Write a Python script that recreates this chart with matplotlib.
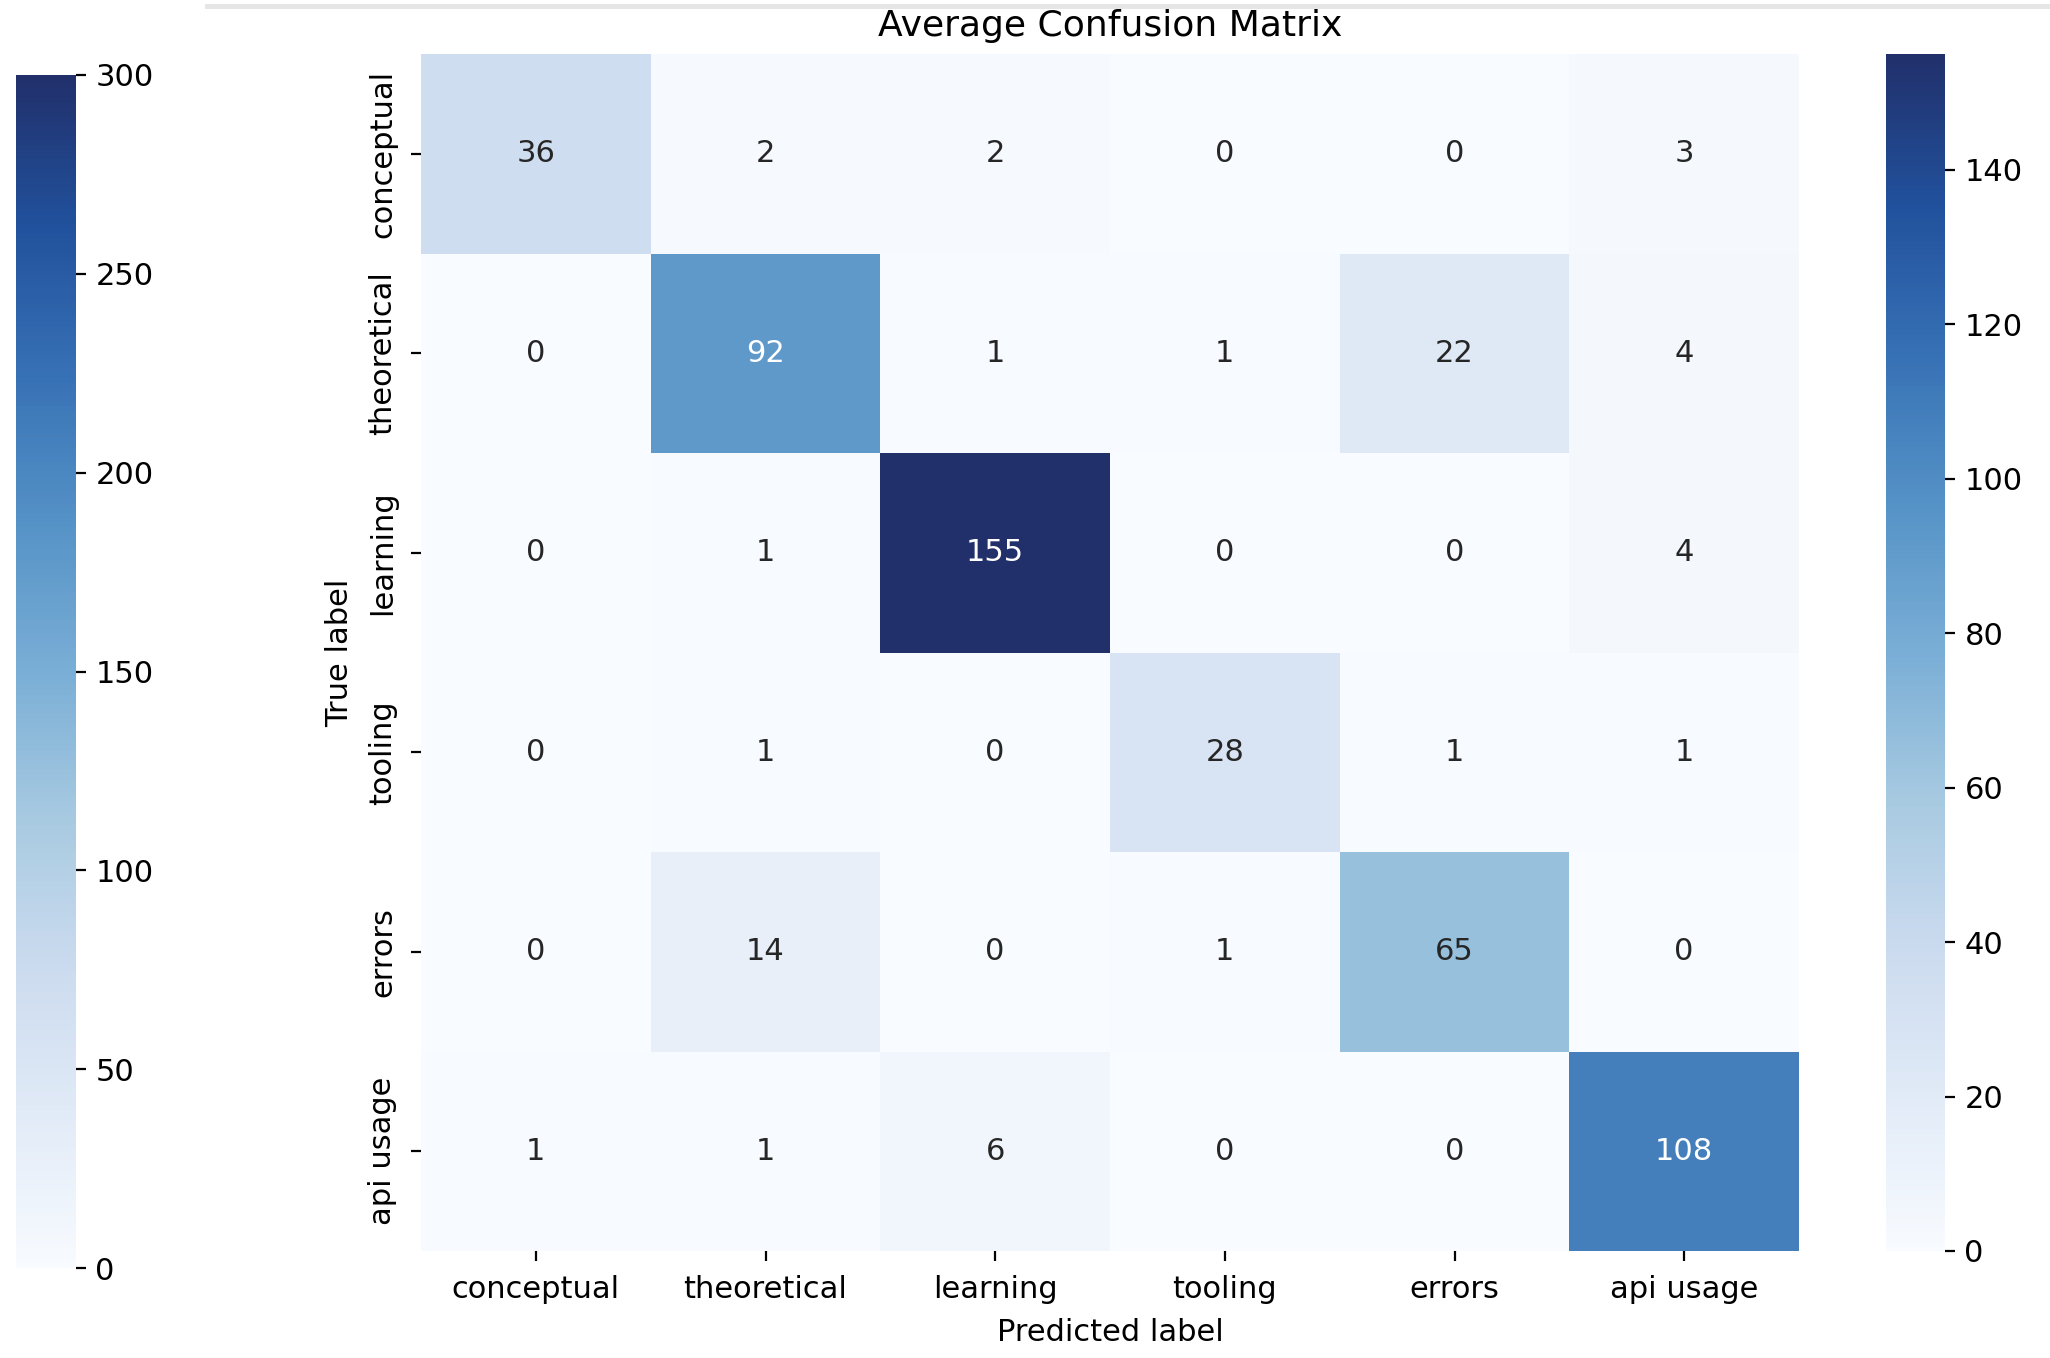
import matplotlib
matplotlib.use("Agg")
import matplotlib.pyplot as plt
import numpy as np
import seaborn as sns
from matplotlib.patches import Rectangle
from matplotlib.cm import ScalarMappable
from matplotlib.colors import Normalize, ListedColormap

labels = ["conceptual", "theoretical", "learning", "tooling", "errors", "api usage"]
row_conceptual = [36, 2, 2, 0, 0, 3]
row_theoretical = [0, 92, 1, 1, 22, 4]
row_learning = [0, 1, 155, 0, 0, 4]
row_tooling = [0, 1, 0, 28, 1, 1]
row_errors = [0, 14, 0, 1, 65, 0]
row_api = [1, 1, 6, 0, 0, 108]
left_cbar_max = 300
left_cbar_ticks = [0, 50, 100, 150, 200, 250, 300]

cm = np.array([row_conceptual, row_theoretical, row_learning, row_tooling, row_errors, row_api])

# slightly muted Blues to match the reference screenshot tones
base = plt.get_cmap("Blues")(np.linspace(0, 1, 256))
base[:, 0] = base[:, 0] + 0.1 * (1 - base[:, 0])
cmap = ListedColormap(base, name="BluesMuted")

W, H = 2050, 1358
dpi = 200
fig = plt.figure(figsize=(W / dpi, H / dpi), dpi=dpi)
plt.rcParams['font.family'] = ['DejaVu Sans']

def fx(x):
    return x / W

def fy(y):
    return 1 - y / H

# top faint border line
fig.patches.append(Rectangle((fx(205), fy(9)), 1 - fx(205), 5 / H, transform=fig.transFigure,
                             facecolor="#e6e6e6", edgecolor="none"))

ax = fig.add_axes([fx(421), fy(1251), fx(1799) - fx(421), fy(54) - fy(1251)])
cax = fig.add_axes([fx(1886), fy(1251), fx(1945) - fx(1886), fy(54) - fy(1251)])
lcax = fig.add_axes([fx(16), fy(1268), fx(76) - fx(16), fy(75) - fy(1268)])

sns.heatmap(cm, annot=True, fmt="d", cmap=cmap, ax=ax, cbar_ax=cax,
            xticklabels=labels, yticklabels=labels, annot_kws={"fontsize": 11})
ax.set_title("Average Confusion Matrix", fontsize=13, pad=6.5)
ax.set_xlabel("Predicted label", fontsize=11, labelpad=5)
ax.set_ylabel("True label", fontsize=11, labelpad=5)
ax.tick_params(axis="both", labelsize=11)
ax.tick_params(axis="x", pad=5.3)
ax.tick_params(axis="y", pad=5)
plt.setp(ax.get_yticklabels(), rotation=90, va="center")
plt.setp(ax.get_xticklabels(), rotation=0)
cax.tick_params(labelsize=11)

sm = ScalarMappable(norm=Normalize(0, left_cbar_max), cmap=cmap)
lcb = fig.colorbar(sm, cax=lcax)
lcb.outline.set_visible(False)
lcb.set_ticks(left_cbar_ticks)
lcax.tick_params(labelsize=11)

fig.savefig("out.png", dpi=dpi)
